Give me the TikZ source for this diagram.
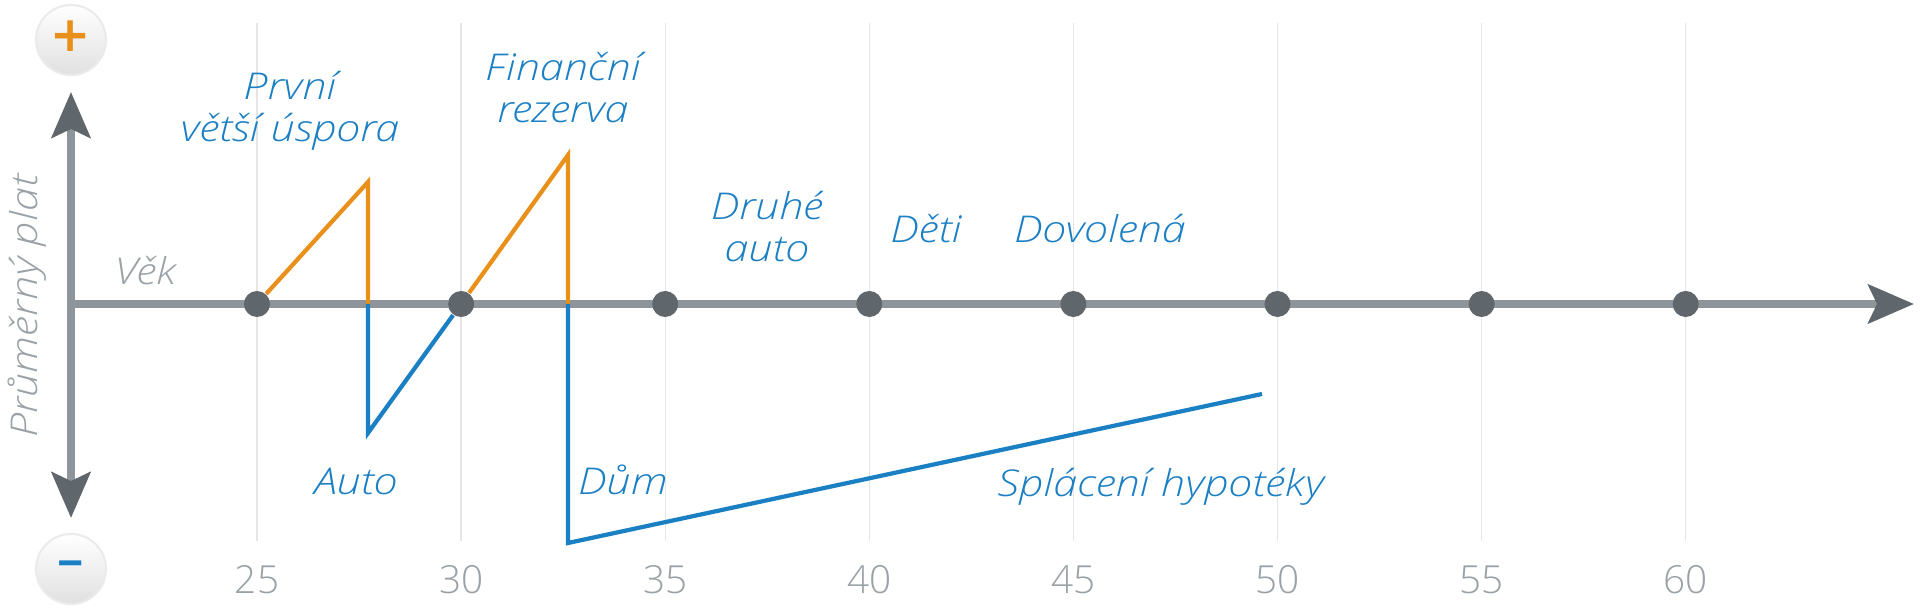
\documentclass[tikz,border=0pt]{standalone}
\usepackage{fontspec}
\setmainfont{Open Sans}[UprightFont=* Light,ItalicFont=* Light Italic]
\newfontfamily\widefont{Open Sans}[UprightFont=* Light Italic,FakeStretch=1.17]
\usetikzlibrary{arrows.meta}
\definecolor{orng}{HTML}{E8901A}
\definecolor{blu}{HTML}{1B7FC4}
\definecolor{axgray}{HTML}{8E959A}
\definecolor{dotgray}{HTML}{5F676C}
\definecolor{txtgray}{HTML}{9AA1A6}
\definecolor{gridgray}{HTML}{E3E5E6}
\begin{document}
\begin{tikzpicture}[x=0.01cm,y=-0.01cm,
  axtip/.tip={Stealth[length=13pt,width=11pt,inset=2.5pt,color=dotgray]},
  axis/.style={draw=axgray,line width=2.4pt},
  year/.style={circle,fill=dotgray,minimum size=0.26cm,inner sep=0pt},
  gain/.style={draw=orng,line width=1.2pt},
  loss/.style={draw=blu,line width=1.2pt},
  event/.style={font=\fontsize{10.5}{12.2}\widefont,text=blu,align=center,inner sep=0pt,anchor=base},
  note/.style={font=\fontsize{10.5}{12}\widefont,text=txtgray,inner sep=0pt},
  tick/.style={font=\fontsize{11}{12}\selectfont,text=txtgray,inner sep=0pt,anchor=base},
  sign/.style={circle,minimum size=0.7cm,inner sep=0pt,top color=white,bottom color=black!12,draw=black!8,line width=0.6pt}]
  \useasboundingbox (0,0) rectangle (1920,613);
  \foreach \a [count=\i from 0] in {25,30,...,60}
    \draw[gridgray,line width=0.4pt] (257+\i*204.1,23) -- (257+\i*204.1,541);
  \draw[axis,axtip-axtip] (71,92) -- (71,518);
  \draw[axis,-axtip] (71,304) -- (1914,304);
  \foreach \a [count=\i from 0] in {25,30,...,60} {
    \node[year] (y\a) at (257+\i*204.1,304) {};
    \node[tick] (t\a) at (257+\i*204.1,594) {\a};
  }
  \coordinate (peak1) at (368,182);
  \coordinate (cut1) at (368,304);
  \coordinate (low1) at (368,433);
  \coordinate (peak2) at (568,155);
  \coordinate (cut2) at (568,304);
  \coordinate (low2) at (568,543);
  \coordinate (paid) at (1262,394);
  \draw[gain] (y25) -- (peak1) -- (cut1);
  \draw[loss] (cut1) -- (low1) -- (y30);
  \draw[gain] (y30) -- (peak2) -- (cut2);
  \draw[loss] (cut2) -- (low2) -- (paid);
  \node[sign] (plus) at (71,40) {\fontsize{18}{18}\selectfont\bfseries\color{orng}+};
  \node[sign] (minus) at (71,569) {\fontsize{15}{15}\selectfont\bfseries\color{blu}\textendash};
  \node[note,rotate=90] (salary) at (27,306) {Průměrný plat};
  \node[note,anchor=base west] (age) at (114,285) {Věk};
  \node[event] (saving) at (290,142) {První\\větší úspora};
  \node[event] (reserve) at (563,123) {Finanční\\rezerva};
  \node[event] (car) at (356,495) {Auto};
  \node[event] (house) at (623,495) {Dům};
  \node[event] (car2) at (767,262) {Druhé\\auto};
  \node[event] (kids) at (926,243) {Děti};
  \node[event] (trip) at (1100,243) {Dovolená};
  \node[event] (mortgage) at (1161,497) {Splácení hypotéky};
\end{tikzpicture}
\end{document}
